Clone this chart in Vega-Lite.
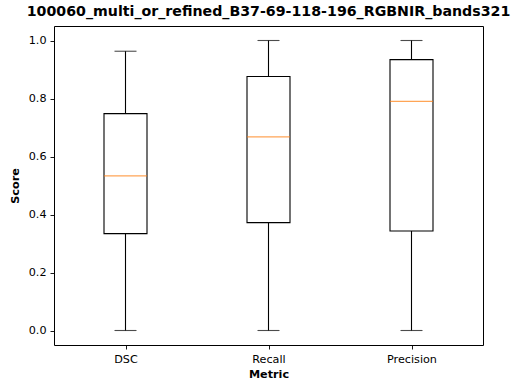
{
  "$schema": "https://vega.github.io/schema/vega-lite/v6.json",
  "width": 429,
  "height": 319,
  "autosize": {"type": "none"},
  "padding": {"left": 54, "top": 26, "right": 33, "bottom": 42},
  "background": "white",
  "title": {
    "text": "100060_multi_or_refined_B37-69-118-196_RGBNIR_bands321",
    "font": "DejaVu Sans",
    "fontSize": 14.2,
    "fontWeight": "bold",
    "color": "black",
    "anchor": "middle",
    "offset": 7
  },
  "config": {
    "view": {"stroke": "black", "strokeWidth": 1},
    "axis": {
      "labelFont": "DejaVu Sans",
      "labelFontSize": 11.2,
      "labelColor": "black",
      "titleFont": "DejaVu Sans",
      "titleFontSize": 11.2,
      "titleFontWeight": "bold",
      "titleColor": "black",
      "tickColor": "black",
      "tickSize": 4,
      "tickWidth": 0.9,
      "labelPadding": 4,
      "domain": false,
      "grid": false
    }
  },
  "data": {
    "values": [
      {"metric": "DSC", "lower": 0.0, "q1": 0.334, "median": 0.533, "q3": 0.748, "upper": 0.963},
      {"metric": "Recall", "lower": 0.0, "q1": 0.372, "median": 0.668, "q3": 0.876, "upper": 1.0},
      {"metric": "Precision", "lower": 0.0, "q1": 0.343, "median": 0.790, "q3": 0.934, "upper": 1.0}
    ]
  },
  "encoding": {
    "x": {
      "field": "metric",
      "type": "nominal",
      "sort": null,
      "scale": {"type": "point", "padding": 0.5},
      "axis": {"title": "Metric", "labelAngle": 0, "titlePadding": 4}
    }
  },
  "layer": [
    {
      "mark": {"type": "rule", "color": "black", "strokeWidth": 1.1},
      "encoding": {
        "y": {
          "field": "lower",
          "type": "quantitative",
          "scale": {"domain": [-0.05, 1.05], "nice": false, "zero": false},
          "axis": {"title": "Score", "values": [0, 0.2, 0.4, 0.6, 0.8, 1.0], "format": ".1f", "titlePadding": 8}
        },
        "y2": {"field": "upper"}
      }
    },
    {
      "mark": {"type": "bar", "size": 43, "fill": "white", "stroke": "black", "strokeWidth": 1.1},
      "encoding": {
        "y": {"field": "q1", "type": "quantitative"},
        "y2": {"field": "q3"}
      }
    },
    {
      "mark": {"type": "tick", "size": 43, "thickness": 1.3, "color": "#ff7f0e", "orient": "horizontal"},
      "encoding": {"y": {"field": "median", "type": "quantitative"}}
    },
    {
      "mark": {"type": "tick", "size": 22, "thickness": 1.1, "color": "black", "orient": "horizontal"},
      "encoding": {"y": {"field": "lower", "type": "quantitative"}}
    },
    {
      "mark": {"type": "tick", "size": 22, "thickness": 1.1, "color": "black", "orient": "horizontal"},
      "encoding": {"y": {"field": "upper", "type": "quantitative"}}
    }
  ]
}
